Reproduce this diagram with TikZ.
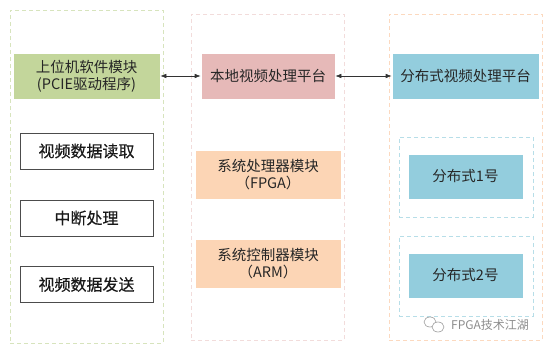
\documentclass[tikz,border=0pt]{standalone}
\usepackage{fontspec}
\setmainfont{Noto Sans CJK SC}
\newfontfamily\heavycjk[FakeBold=0.4]{Noto Sans CJK SC}
\usetikzlibrary{arrows.meta}
\definecolor{cgreen}{HTML}{C3D69B}
\definecolor{cpink}{HTML}{E6B9B8}
\definecolor{corange}{HTML}{FCD5B5}
\definecolor{cblue}{HTML}{93CDDD}
\definecolor{dgreen}{HTML}{D7E4BD}
\definecolor{dpink}{HTML}{F2DCDB}
\definecolor{dorange}{HTML}{FCD9BF}
\definecolor{dblue}{HTML}{B7DEE8}
\tikzset{
  container/.style={draw=#1, line width=0.9pt, dash pattern=on 4pt off 3pt, minimum width=0pt, inner sep=0pt},
  fillbox/.style={fill=#1, draw=white, line width=0.6pt, inner sep=0pt, align=center, font=\fontsize{14.5}{17}\selectfont, text=black!85},
  whitebox/.style={draw=black!70, line width=0.7pt, fill=white, inner sep=0pt, minimum width=133pt, minimum height=36pt, font=\heavycjk\fontsize{16}{18}\selectfont, text=black!90},
  biarrow/.style={{Latex[length=6pt,width=4.5pt]}-{Latex[length=6pt,width=4.5pt]}, line width=0.6pt, draw=black!80}
}
\begin{document}
\begin{tikzpicture}[x=1pt,y=-1pt]
\useasboundingbox (0,0) rectangle (554,351);
% containers
\node[container=dgreen, minimum width=153pt, minimum height=333pt] (cl) at (86.5,176.5) {};
\node[container=dpink, minimum width=153pt, minimum height=326pt] (cm) at (267.5,177) {};
\node[container=dorange, minimum width=153pt, minimum height=326pt] (cr) at (465.5,177) {};
\node[container=dblue, minimum width=134pt, minimum height=80pt] (d1) at (466,177) {};
\node[container=dblue, minimum width=134pt, minimum height=80pt] (d2) at (466,276) {};
% top row
\node[fillbox=cgreen, minimum width=147pt, minimum height=46pt] (host) at (86.5,76) {上位机软件模块\\(PCIE驱动程序)};
\node[fillbox=cpink, minimum width=134pt, minimum height=46pt] (local) at (268,76) {本地视频处理平台};
\node[fillbox=cblue, minimum width=147pt, minimum height=46pt] (dist) at (465.5,76) {分布式视频处理平台};
% left column
\node[whitebox] (read) at (86.5,151) {视频数据读取};
\node[whitebox] (irq) at (86.5,218) {中断处理};
\node[whitebox] (send) at (86.5,284.5) {视频数据发送};
% middle column
\node[fillbox=corange, minimum width=146pt, minimum height=49pt] (fpga) at (268,174.5) {系统处理器模块\\（FPGA）};
\node[fillbox=corange, minimum width=146pt, minimum height=49pt] (arm) at (268,263.5) {系统控制器模块\\（ARM）};
% right column
\node[fillbox=cblue, minimum width=115pt, minimum height=45pt] (n1) at (465.5,176.5) {分布式1号};
\node[fillbox=cblue, minimum width=115pt, minimum height=45pt] (n2) at (465.5,275.5) {分布式2号};
% arrows
\draw[biarrow] (host.east) -- (local.west);
\draw[biarrow] (local.east) -- (dist.west);
% watermark
\node[text=black!45, font=\fontsize{12}{14}\selectfont, anchor=west, inner sep=0pt] (wm) at (451,325) {FPGA技术江湖};
\draw[black!40, line width=0.6pt] (430,322) ellipse (6pt and 5pt);
\draw[black!40, line width=0.6pt, fill=white] (438,327) ellipse (6pt and 5pt);
\end{tikzpicture}
\end{document}
